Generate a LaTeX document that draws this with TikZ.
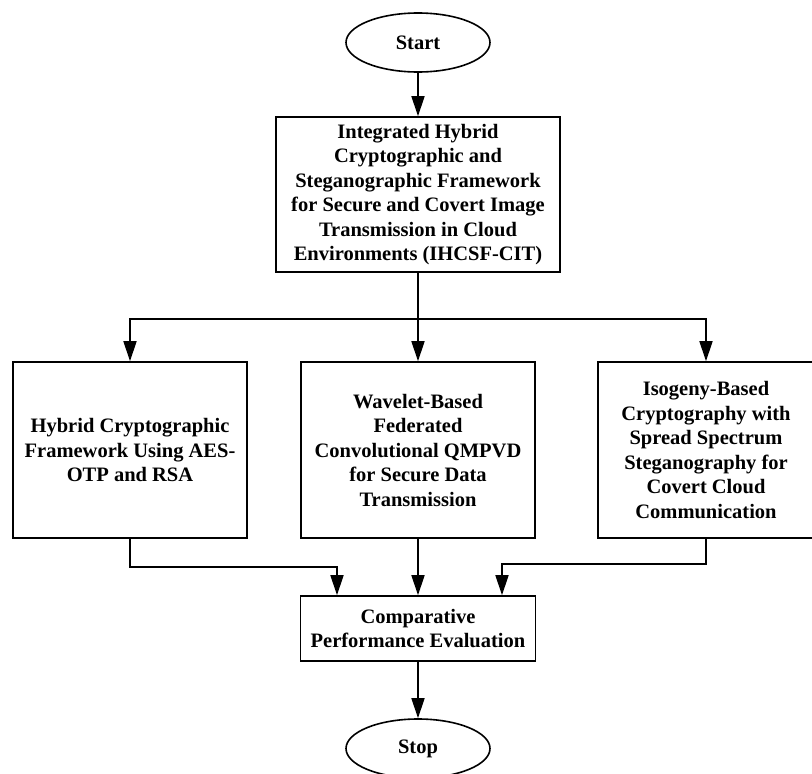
\documentclass[tikz,border=0pt]{standalone}
\usepackage{fontspec}
\setmainfont{Liberation Serif}
\usepackage{tikz}
\usetikzlibrary{arrows.meta, calc, shapes.geometric}

\tikzset{
    flowtxt/.style={font=\fontsize{20.5}{24.5}\selectfont\bfseries, align=center},
    terminal/.style={flowtxt, draw, line width=1.6pt, ellipse, minimum width=144pt, minimum height=59pt, inner sep=0pt},
    procbox/.style={flowtxt, draw, line width=1.6pt, rectangle, inner sep=0pt},
    flowarr/.style={-{Triangle[length=20pt, width=13pt]}, line width=1.6pt},
    flowline/.style={line width=1.6pt}
}

\begin{document}
\begin{tikzpicture}[x=1pt, y=-1pt]
    \useasboundingbox (0,0) rectangle (812,774);
    \node[terminal] (start) at (418,42.5) {Start};
    \node[procbox, minimum width=284pt, minimum height=155pt] (main) at (418,194.5)
        {Integrated Hybrid\\Cryptographic and\\Steganographic Framework\\for Secure and Covert Image\\Transmission in Cloud\\Environments (IHCSF-CIT)};
    \node[procbox, minimum width=234pt, minimum height=176pt] (hcf) at (130,450)
        {Hybrid Cryptographic\\Framework Using AES-\\OTP and RSA};
    \node[procbox, minimum width=234pt, minimum height=176pt] (wfc) at (418,450)
        {Wavelet-Based\\Federated\\Convolutional QMPVD\\for Secure Data\\Transmission};
    \node[procbox, minimum width=216pt, minimum height=176pt] (ibc) at (706,450)
        {Isogeny-Based\\Cryptography with\\Spread Spectrum\\Steganography for\\Covert Cloud\\Communication};
    \node[procbox, minimum width=235pt, minimum height=65pt] (cpe) at (418,628.5)
        {Comparative\\Performance Evaluation};
    \node[terminal] (stop) at (418,748.5) {Stop};

    \coordinate (split) at (418,319);
    \coordinate (joinl) at (337,567);
    \coordinate (joinr) at (502,564);

    \draw[flowarr] (start) -- (main);
    \draw[flowline] (main.south) -- (split);
    \draw[flowarr] (split) -| (hcf.north);
    \draw[flowarr] (split) -- (wfc.north);
    \draw[flowarr] (split) -| (ibc.north);
    \draw[flowarr] (hcf.south) |- (joinl) -- (joinl |- cpe.north);
    \draw[flowarr] (wfc.south) -- (wfc.south |- cpe.north);
    \draw[flowarr] (ibc.south) |- (joinr) -- (joinr |- cpe.north);
    \draw[flowarr] (cpe) -- (stop);
\end{tikzpicture}
\end{document}
